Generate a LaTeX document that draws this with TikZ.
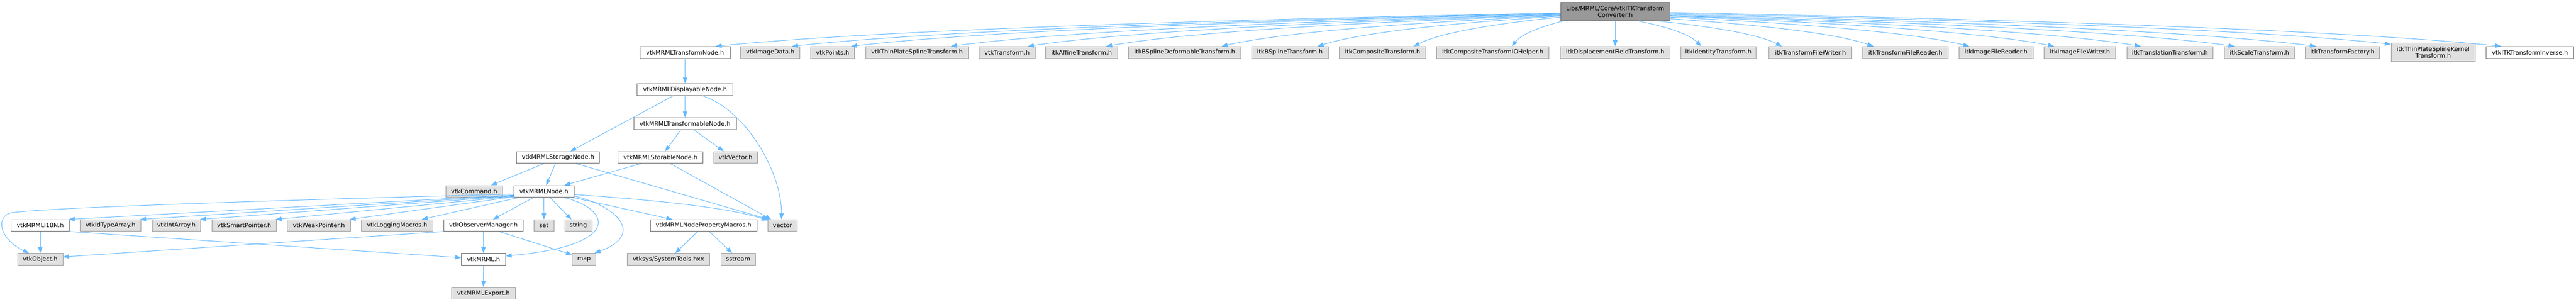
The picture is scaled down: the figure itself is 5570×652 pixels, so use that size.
\documentclass[tikz,border=0pt]{standalone}
\usepackage{fontspec}
\setmainfont{DejaVu Sans}
\usetikzlibrary{arrows.meta,calc}
\definecolor{eblue}{HTML}{63B8FF}
\definecolor{cdark}{HTML}{666666}
\definecolor{cmid}{HTML}{999999}
\definecolor{cfill}{HTML}{E0E0E0}
\newcommand{\bx}[7]{\node[#1, minimum width={(#4-#3)*1bp}, minimum height={(#6-#5)*1bp}] (#2) at ({(#3+#4)/2},{(#5+#6)/2}) {#7};}
\newcommand{\cedge}[2]{\draw[edge] let \p1=#1, \p2=#2 in (\p1) .. controls ({\x1+0.4*(\x2-\x1)},{\y1+0.2*(\y2-\y1)}) and ({\x2-0.2*(\x2-\x1)},{\y2-0.5*(\y2-\y1)}) .. (\p2);}
\begin{document}
\begin{tikzpicture}[x=1bp,y=-1bp,
  basebox/.style={inner sep=0pt, line width=1bp, font=\fontsize{13bp}{15bp}\selectfont, align=center},
  wbox/.style={basebox, draw=cdark, fill=white},
  gbox/.style={basebox, draw=cmid, fill=cfill},
  tbox/.style={basebox, draw=cdark, fill=cmid},
  edge/.style={draw=eblue, line width=1.1bp, -{Triangle[length=13bp,width=9.5bp]}}]
\useasboundingbox (0,0) rectangle (5570,652);
% top
\bx{tbox}{T}{3374.5}{3610.5}{5}{45}{Libs/MRML/Core/vtkITKTransform\\Converter.h}
% row 2
\bx{wbox}{r1}{1384}{1578.6}{100.5}{126}{vtkMRMLTransformNode.h}
\bx{gbox}{r2}{1601.8}{1729}{100.5}{126}{vtkImageData.h}
\bx{gbox}{r3}{1752.7}{1847.8}{100.5}{126}{vtkPoints.h}
\bx{gbox}{r4}{1871.9}{2093.8}{100.5}{126}{vtkThinPlateSplineTransform.h}
\bx{gbox}{r5}{2117}{2238}{100.5}{126}{vtkTransform.h}
\bx{gbox}{r6}{2261}{2416.5}{100.5}{126}{itkAffineTransform.h}
\bx{gbox}{r7}{2440}{2683}{100.5}{126}{itkBSplineDeformableTransform.h}
\bx{gbox}{r8}{2706}{2872}{100.5}{126}{itkBSplineTransform.h}
\bx{gbox}{r9}{2896}{3083}{100.5}{126}{itkCompositeTransform.h}
\bx{gbox}{r10}{3106}{3349.6}{100.5}{126}{itkCompositeTransformIOHelper.h}
\bx{gbox}{r11}{3374}{3611}{100.5}{126}{itkDisplacementFieldTransform.h}
\bx{gbox}{r12}{3634}{3797}{100.5}{126}{itkIdentityTransform.h}
\bx{gbox}{r13}{3825}{4004.5}{100.5}{126}{itkTransformFileWriter.h}
\bx{gbox}{r14}{4028}{4212}{100.5}{126}{itkTransformFileReader.h}
\bx{gbox}{r15}{4236}{4396}{100.5}{126}{itkImageFileReader.h}
\bx{gbox}{r16}{4420}{4575}{100.5}{126}{itkImageFileWriter.h}
\bx{gbox}{r17}{4598.7}{4785}{100.5}{126}{itkTranslationTransform.h}
\bx{gbox}{r18}{4810}{4961}{100.5}{126}{itkScaleTransform.h}
\bx{gbox}{r19}{4984.7}{5145}{100.5}{126}{itkTransformFactory.h}
\bx{gbox}{r20}{5170}{5352}{93}{133}{itkThinPlateSplineKernel\\Transform.h}
\bx{wbox}{r21}{5376}{5565}{100.5}{126}{vtkITKTransformInverse.h}
% middle
\bx{wbox}{disp}{1377.7}{1584.8}{181}{206.6}{vtkMRMLDisplayableNode.h}
\bx{wbox}{trf}{1370.5}{1592}{254.5}{280}{vtkMRMLTransformableNode.h}
\bx{wbox}{stbl}{1336.6}{1519.6}{327.6}{353}{vtkMRMLStorableNode.h}
\bx{gbox}{vvec}{1543}{1638}{327.6}{353}{vtkVector.h}
\bx{wbox}{stg}{1117}{1296}{327.6}{353}{vtkMRMLStorageNode.h}
\bx{gbox}{cmd}{963.8}{1086.6}{401}{426}{vtkCommand.h}
\bx{wbox}{mnode}{1111}{1241}{401}{426}{vtkMRMLNode.h}
% row
\bx{wbox}{i18n}{24}{150}{474.8}{500}{vtkMRMLI18N.h}
\bx{gbox}{idt}{173.7}{304.3}{474.8}{500}{vtkIdTypeArray.h}
\bx{gbox}{inta}{328.6}{434}{474.8}{500}{vtkIntArray.h}
\bx{gbox}{smp}{458.5}{597.3}{474.8}{500}{vtkSmartPointer.h}
\bx{gbox}{wkp}{621.4}{757.6}{474.8}{500}{vtkWeakPointer.h}
\bx{gbox}{log}{781.7}{935.7}{474.8}{500}{vtkLoggingMacros.h}
\bx{wbox}{obs}{959.8}{1130.8}{474.8}{500}{vtkObserverManager.h}
\bx{gbox}{set}{1154.5}{1197.8}{474.8}{500}{set}
\bx{gbox}{str}{1221}{1280}{474.8}{500}{string}
\bx{wbox}{npm}{1405.8}{1636.6}{474.8}{500}{vtkMRMLNodePropertyMacros.h}
\bx{gbox}{vec}{1660}{1723.7}{474.8}{500}{vector}
% lower
\bx{gbox}{obj}{38}{136}{547.6}{573}{vtkObject.h}
\bx{wbox}{mrml}{997.8}{1092.9}{547.6}{573}{vtkMRML.h}
\bx{gbox}{map}{1237.5}{1288}{547.6}{573}{map}
\bx{gbox}{sys}{1355.8}{1535}{547.6}{573}{vtksys/SystemTools.hxx}
\bx{gbox}{sst}{1558.5}{1633.5}{547.6}{573}{sstream}
\bx{gbox}{exp}{976.8}{1114}{621}{646.6}{vtkMRMLExport.h}
% edges from top node
\cedge{($(T.west)+(0,3)$)}{($(r1.north)+(66,0)$)}
\cedge{($(T.west)+(0,4)$)}{($(r2.north)+(47,0)$)}
\cedge{($(T.west)+(0,5)$)}{($(r3.north)+(40,0)$)}
\cedge{($(T.west)+(0,6)$)}{($(r4.north)+(73,0)$)}
\cedge{($(T.west)+(0,7)$)}{($(r5.north)+(45,0)$)}
\cedge{($(T.west)+(0,8)$)}{($(r6.north)+(53,0)$)}
\cedge{($(T.west)+(0,9)$)}{($(r7.north)+(80,0)$)}
\cedge{($(T.west)+(0,10)$)}{($(r8.north)+(60,0)$)}
\cedge{($(T.west)+(0,12)$)}{($(r9.north)+(67,0)$)}
\cedge{($(T.south west)+(6,0)$)}{($(r10.north)+(41,0)$)}
\draw[edge] (T.south) -- (r11.north);
\cedge{($(T.south)+(50,0)$)}{($(r12.north)+(-37,0)$)}
\cedge{($(T.south)+(92,0)$)}{($(r13.north)+(-62,0)$)}
\cedge{($(T.south east)+(0,-5)$)}{($(r14.north)+(-69,0)$)}
\cedge{($(T.east)+(0,12)$)}{($(r15.north)+(-58,0)$)}
\cedge{($(T.east)+(0,10)$)}{($(r16.north)+(-56,0)$)}
\cedge{($(T.east)+(0,9)$)}{($(r17.north)+(-63,0)$)}
\cedge{($(T.east)+(0,8)$)}{($(r18.north)+(-54,0)$)}
\cedge{($(T.east)+(0,6)$)}{($(r19.north)+(-57,0)$)}
\cedge{($(T.east)+(0,4)$)}{($(r20.north west)+(0,3)$)}
\cedge{($(T.east)+(0,2)$)}{($(r21.north)+(-62.5,0)$)}
% middle edges
\draw[edge] (r1.south) -- (disp.north);
\draw[edge] (disp.south) -- (trf.north);
\draw[edge] ($(disp.south)+(-25.5,0)$) -- ($(stg.north)+(27,0)$);
\draw[edge] ($(disp.south)+(37,0)$) .. controls ($(disp.south)+(129,28)$) and ($(vec.north)+(-2,-105)$) .. ($(vec.north)+(-2,0)$);
\draw[edge] ($(trf.south)+(-9,0)$) -- ($(stbl.north)+(10,0)$);
\draw[edge] ($(trf.south)+(19,0)$) -- ($(vvec.north)+(-25.5,0)$);
\draw[edge] ($(stbl.south)+(-42,0)$) -- ($(mnode.north)+(44,0)$);
\draw[edge] ($(stbl.south)+(21,0)$) -- ($(vec.north west)+(8,0)$);
\draw[edge] ($(stg.south)+(-30,0)$) -- ($(cmd.north)+(36.4,0)$);
\draw[edge] ($(stg.south)+(-5.5,0)$) -- ($(mnode.north)+(5,0)$);
\draw[edge] ($(stg.south)+(39,0)$) -- ($(vec.north west)+(3,0)$);
% from vtkMRMLNode
\cedge{($(mnode.east)+(0,7)$)}{($(vec.north west)+(0,2)$)}
\draw[edge] ($(mnode.south east)+(-5,0)$) -- ($(npm.north)+(-67.6,0)$);
\draw[edge] ($(mnode.south)+(42,0)$) .. controls ($(mnode.south)+(144,24)$) and ($(mrml.east)+(257,-30)$) .. ($(mrml.east)+(0,-7)$);
\draw[edge] ($(mnode.south east)+(-1,-3)$) .. controls ($(mnode.south east)+(94,19)$) and ($(map.north)+(132,-40)$) .. ($(map.north east)+(-3,0)$);
\draw[edge] ($(mnode.south)+(12.8,0)$) -- ($(str.north)+(-14.8,0)$);
\draw[edge] (mnode.south) -- (set.north);
\draw[edge] ($(mnode.south)+(-21.5,0)$) -- ($(obs.north)+(20.7,0)$);
\draw[edge] ($(mnode.south west)+(13,0)$) -- ($(log.north)+(53.3,0)$);
\draw[edge] ($(mnode.west)+(0,12)$) -- ($(wkp.north east)+(-2,0)$);
\draw[edge] ($(mnode.west)+(0,11)$) -- ($(smp.north east)+(-2,0)$);
\draw[edge] ($(mnode.west)+(0,10)$) -- ($(inta.north east)+(-2,0)$);
\draw[edge] ($(mnode.west)+(0,9)$) -- ($(idt.north east)+(-2,0)$);
\draw[edge] ($(mnode.west)+(0,8)$) -- ($(i18n.north east)+(-2,0)$);
\draw[edge] ($(mnode.west)+(0,6)$) .. controls (700,430) and (100,448) .. (25,460) .. controls (-8,466) and (-5,515) .. ($(obj.north)+(-24.5,0)$);
% lower edges
\draw[edge] (obs.south west) -- ($(obj.east)+(0,-5)$);
\draw[edge] (obs.south) -- (mrml.north);
\draw[edge] ($(obs.south)+(34,0)$) -- ($(map.north west)+(0,3.5)$);
\draw[edge] (i18n.south) -- (obj.north);
\draw[edge] (i18n.south east) -- ($(mrml.west)+(0,-3.3)$);
\draw[edge] (mrml.south) -- (exp.north);
\draw[edge] ($(npm.south)+(-12.7,0)$) -- ($(sys.north)+(14.6,0)$);
\draw[edge] ($(npm.south)+(12.8,0)$) -- ($(sst.north)+(-13,0)$);
\end{tikzpicture}
\end{document}
